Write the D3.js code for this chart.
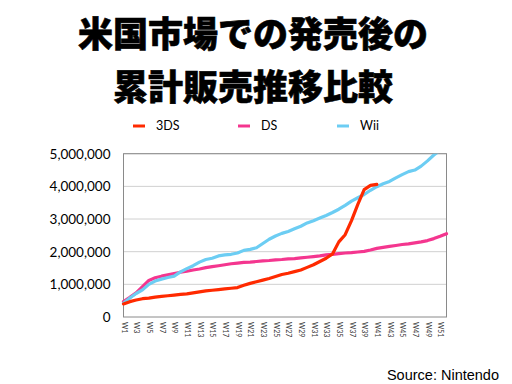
<!DOCTYPE html>
<html>
<head>
<meta charset="utf-8">
<script src="https://cdn.jsdelivr.net/npm/d3@7"></script>
<style>
  body { margin: 0; background: #fff; }
  svg { display: block; }
</style>
</head>
<body>
<script>
// Data
var weeks = d3.range(1, 53).map(function(i) { return "W" + i; });

var ds3 = [0.40, 0.47, 0.52, 0.56, 0.58, 0.61, 0.63, 0.65, 0.67, 0.69,
           0.71, 0.74, 0.77, 0.80, 0.82, 0.84, 0.86, 0.88, 0.90, 0.97,
           1.03, 1.08, 1.13, 1.18, 1.24, 1.30, 1.34, 1.39, 1.44, 1.52,
           1.60, 1.70, 1.80, 1.93, 2.30, 2.52, 2.95, 3.45, 3.90, 4.03, 4.06];

var ds = [0.47, 0.60, 0.74, 0.93, 1.12, 1.20, 1.25, 1.29, 1.33, 1.37,
          1.40, 1.44, 1.47, 1.51, 1.54, 1.57, 1.60, 1.63, 1.65, 1.67,
          1.68, 1.70, 1.72, 1.73, 1.75, 1.76, 1.78, 1.79, 1.81, 1.83,
          1.85, 1.87, 1.90, 1.92, 1.94, 1.96, 1.97, 1.99, 2.01, 2.05,
          2.10, 2.13, 2.16, 2.19, 2.22, 2.24, 2.27, 2.30, 2.34, 2.40,
          2.47, 2.55];

var wii = [0.42, 0.58, 0.72, 0.83, 1.00, 1.10, 1.16, 1.21, 1.25, 1.38,
           1.48, 1.57, 1.68, 1.76, 1.80, 1.87, 1.90, 1.92, 1.96, 2.04,
           2.07, 2.12, 2.25, 2.38, 2.48, 2.56, 2.62, 2.70, 2.78, 2.88,
           2.95, 3.03, 3.11, 3.20, 3.30, 3.42, 3.55, 3.65, 3.75, 3.88,
           3.99, 4.08, 4.15, 4.26, 4.36, 4.45, 4.50, 4.62, 4.78, 4.96, 5.10];

var yTicks = [0, 1000000, 2000000, 3000000, 4000000, 5000000];

var series = [
  {name: "3DS", color: "#ff2a00", values: ds3, lx: 133},
  {name: "DS",  color: "#f4368f", values: ds,  lx: 238},
  {name: "Wii", color: "#6ccdf3", values: wii, lx: 337}
];

var width = 512, height = 384;
var plot = {left: 123.5, right: 446.5, top: 153.7, bottom: 317};

var svg = d3.select("body").append("svg")
    .attr("width", width)
    .attr("height", height);

// Title
var title = svg.append("g")
    .attr("font-family", "'Noto Sans CJK JP', sans-serif")
    .attr("font-weight", 900)
    .attr("font-size", 35)
    .attr("text-anchor", "middle")
    .attr("fill", "#000")
    .attr("stroke", "#000")
    .attr("stroke-width", 0.6);
title.append("text").attr("x", 253).attr("y", 47).text("米国市場での発売後の");
title.append("text").attr("x", 253).attr("y", 100).text("累計販売推移比較");

// Scales
var x = d3.scalePoint()
    .domain(weeks)
    .range([plot.left, plot.right]);

var y = d3.scaleLinear()
    .domain([0, 5000000])
    .range([plot.bottom, plot.top]);

// Grid
svg.append("g")
    .selectAll("line")
    .data(yTicks.slice(1))
    .enter().append("line")
    .attr("x1", plot.left)
    .attr("x2", plot.right)
    .attr("y1", function(d) { return y(d); })
    .attr("y2", function(d) { return y(d); })
    .attr("stroke", "#d0d0d0")
    .attr("stroke-width", 1);

// Frame
svg.append("rect")
    .attr("x", plot.left)
    .attr("y", plot.top)
    .attr("width", plot.right - plot.left)
    .attr("height", plot.bottom - plot.top)
    .attr("fill", "none")
    .attr("stroke", "#8a8a8a")
    .attr("stroke-width", 1);

// Y axis
var yAxis = svg.append("g")
    .attr("transform", "translate(" + plot.left + ",0)")
    .call(d3.axisLeft(y)
        .tickValues(yTicks)
        .tickSize(0)
        .tickPadding(13)
        .tickFormat(d3.format(",")));
yAxis.select(".domain").remove();
yAxis.selectAll("text")
    .attr("font-family", "Lato, 'Open Sans', sans-serif")
    .attr("font-size", 13.5)
    .attr("fill", "#000");

// X axis labels (every other week)
var xAxis = svg.append("g")
    .attr("transform", "translate(0," + plot.bottom + ")")
    .call(d3.axisBottom(x)
        .tickValues(weeks.filter(function(d, i) { return i % 2 == 0; }))
        .tickSize(0)
        .tickPadding(0));
xAxis.select(".domain").remove();
xAxis.selectAll("text")
    .attr("font-family", "Lato, sans-serif")
    .attr("font-size", 7)
    .attr("fill", "#333")
    .attr("text-anchor", "start")
    .attr("dy", "0.35em")
    .attr("transform", "translate(0,5) rotate(90)")
    .attr("y", 0)
    .attr("x", 0);

// Clip
svg.append("clipPath")
    .attr("id", "clip")
    .append("rect")
    .attr("x", plot.left - 3)
    .attr("y", plot.top)
    .attr("width", plot.right - plot.left + 6)
    .attr("height", plot.bottom - plot.top + 3);

var line = d3.line()
    .x(function(d, i) { return x(weeks[i]); })
    .y(function(d) { return y(d * 1000000); });

// Lines (3DS drawn last so it sits on top)
var lines = svg.append("g").attr("clip-path", "url(#clip)");
[series[1], series[2], series[0]].forEach(function(s) {
  lines.append("path")
      .datum(s.values)
      .attr("fill", "none")
      .attr("stroke", s.color)
      .attr("stroke-width", 3.2)
      .attr("stroke-linejoin", "round")
      .attr("stroke-linecap", "round")
      .attr("d", line);
});

// Legend
var legend = svg.append("g")
    .selectAll("g")
    .data(series)
    .enter().append("g")
    .attr("transform", function(d) { return "translate(" + d.lx + ",126)"; });
legend.append("line")
    .attr("x1", 0).attr("x2", 12)
    .attr("stroke", function(d) { return d.color; })
    .attr("stroke-width", 3);
legend.append("text")
    .attr("x", 23)
    .attr("dy", "0.35em")
    .attr("font-family", "Lato, sans-serif")
    .attr("font-size", 12.5)
    .attr("fill", "#000")
    .text(function(d) { return d.name; });

// Source
svg.append("text")
    .attr("x", 499)
    .attr("y", 380)
    .attr("text-anchor", "end")
    .attr("font-family", "'Liberation Sans', Arial, sans-serif")
    .attr("font-size", 14.5)
    .attr("fill", "#000")
    .text("Source: Nintendo");
</script>
</body>
</html>
